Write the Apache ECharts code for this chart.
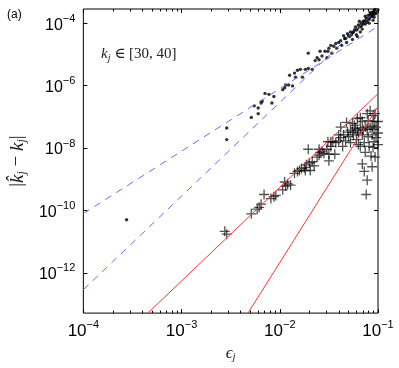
<!DOCTYPE html>
<html><head><meta charset="utf-8">
<script src="https://cdn.jsdelivr.net/npm/echarts@6/dist/echarts.min.js"></script>
<style>html,body{margin:0;padding:0;background:#fff}#c{width:399px;height:368px}</style>
</head><body><div id="c"></div>
<script>
// All values are log10 of the plotted quantities (both axes are logarithmic)
const xRange = [-4, -1];            // log10(eps_j)
const yRange = [-13.29, -3.546];    // log10(|k^_j - k_j|)
const xMajorTicks = [-4, -3, -2, -1];
const yMajorTicks = [-12, -10, -8, -6, -4];
const xMinorMantissas = [2, 3, 4, 5, 6, 7, 8, 9];

// reference power-law lines: [log10 eps, log10 err] end points
const blueLineA = [[-4, -10.10], [-1, -4.10]];   // ~eps^2
const blueLineB = [[-4, -12.54], [-1, -3.54]];   // ~eps^3
const redLineA  = [[-4, -15.26], [-1, -6.26]];   // ~eps^3
const redLineB  = [[-4, -21.67], [-1, -6.67]];   // ~eps^5

// dot series [log10 eps, log10 err]
const dots = [
 [-3.56,-10.30],[-2.54,-7.36],[-2.54,-7.73],[-2.29,-7.02],[-2.22,-6.72],[-2.22,-6.90],
 [-2.19,-6.56],[-2.18,-6.50],[-2.15,-6.25],[-2.11,-6.28],[-2.06,-6.35],[-2.08,-6.56],
 [-1.97,-6.13],[-1.95,-6.07],[-1.94,-5.98],[-1.91,-5.98],[-1.87,-6.01],[-1.85,-5.60],
 [-1.82,-5.51],[-1.79,-5.48],[-1.84,-5.73],[-1.77,-5.73],[-1.74,-5.48],[-1.71,-5.45],
 [-1.67,-5.48],[-1.71,-4.96],[-1.64,-5.20],[-1.62,-5.11],[-1.60,-5.17],[-1.57,-5.05],
 [-1.59,-4.90],[-1.54,-4.90],[-1.51,-4.90],[-1.50,-4.80],[-1.48,-4.71],[-1.45,-4.74],
 [-1.43,-4.65],[-1.40,-4.62],[-1.38,-4.56],[-1.35,-4.40],[-1.33,-4.49],[-1.31,-4.34],
 [-1.29,-4.43],[-1.28,-4.28],[-1.26,-4.31],[-1.24,-4.22],[-1.23,-4.12],[-1.21,-4.19],
 [-1.20,-4.06],[-1.18,-4.09],[-1.17,-4.00],[-1.15,-4.03],[-1.14,-3.94],[-1.12,-3.91],
 [-1.11,-3.97],[-1.10,-3.85],[-1.08,-3.81],[-1.07,-3.75],[-1.06,-3.78],[-1.05,-3.69],
 [-1.04,-3.72],[-1.04,-3.63],[-1.03,-3.66],[-1.02,-3.60],[-1.00,-3.57],[-1.32,-4.62],
 [-1.26,-4.52],[-1.22,-4.37],[-1.16,-4.19],[-1.09,-4.00],[-1.42,-4.80],[-1.37,-4.71],
 [-1.13,-3.78],[-1.19,-3.94],[-1.52,-5.11],[-1.47,-4.96],[-1.90,-5.67],[-2.26,-6.65],
 [-1.04,-3.81],[-1.08,-3.66],
 [-1.34,-4.49],[-1.30,-4.40],[-1.27,-4.37],[-1.25,-4.28],[-1.22,-4.22],[-1.19,-4.12],
 [-1.17,-4.09],[-1.15,-3.94],[-1.12,-3.85],[-1.10,-3.75],[-1.08,-3.72],[-1.06,-3.66],
 [-1.04,-3.60],[-1.03,-3.56],[-1.02,-3.69],[-1.05,-3.91],[-1.09,-3.88],[-1.13,-4.03],
 [-1.18,-4.28],[-1.21,-4.43]
];

// cross series [log10 eps, log10 err]
const crosses = [
 [-2.54,-10.76],[-2.56,-10.67],[-2.29,-10.11],[-2.23,-9.96],[-2.21,-9.90],[-2.19,-9.80],
 [-2.16,-9.49],[-2.09,-9.62],[-2.06,-9.56],[-2.04,-9.52],[-1.97,-9.34],[-1.94,-9.22],
 [-1.95,-9.09],[-1.92,-9.15],[-1.89,-9.19],[-1.85,-8.81],[-1.82,-8.75],[-1.80,-8.72],
 [-1.78,-8.66],[-1.75,-8.63],[-1.73,-8.54],[-1.70,-8.48],[-1.67,-8.44],[-1.65,-8.57],
 [-1.69,-8.72],[-1.74,-8.72],[-1.71,-8.04],[-1.62,-8.29],[-1.60,-8.23],[-1.59,-8.14],
 [-1.57,-8.10],[-1.55,-8.17],[-1.60,-8.04],[-1.52,-8.04],[-1.50,-8.20],[-1.48,-7.95],
 [-1.46,-7.80],[-1.48,-7.80],[-1.43,-7.83],[-1.40,-7.77],[-1.38,-7.67],[-1.35,-7.58],
 [-1.33,-7.77],[-1.31,-7.49],[-1.30,-7.64],[-1.28,-7.43],[-1.26,-7.49],[-1.25,-7.58],
 [-1.23,-7.36],[-1.21,-7.43],[-1.18,-7.36],[-1.20,-7.52],[-1.15,-7.43],[-1.13,-7.33],
 [-1.11,-7.40],[-1.08,-7.36],[-1.06,-7.30],[-1.04,-7.40],[-1.02,-7.33],[-1.32,-7.18],
 [-1.21,-7.06],[-1.11,-6.90],[-1.08,-6.81],[-1.05,-6.96],[-1.03,-6.90],[-1.00,-7.15],
 [-1.16,-7.15],[-1.26,-7.21],[-1.38,-7.33],[-1.22,-7.73],[-1.18,-7.95],[-1.14,-7.83],
 [-1.10,-7.64],[-1.06,-7.58],[-1.04,-7.80],[-1.02,-7.67],[-1.07,-8.26],[-1.03,-8.29],
 [-1.16,-8.51],[-1.14,-8.75],[-1.11,-9.03],[-1.12,-9.49],[-1.06,-8.60],[-1.05,-7.98],
 [-1.20,-7.89],[-1.28,-7.83],[-1.36,-7.95],[-1.13,-8.14],[-1.09,-7.95],[-1.00,-7.89],
 [-1.00,-7.52],[-1.16,-7.58],[-1.24,-7.27],[-1.40,-7.58],[-1.51,-7.80],[-1.44,-8.20],
 [-1.50,-8.41],[-1.18,-7.03],[-1.10,-7.12],[-1.04,-7.15]
];

const xMinorTicks = [];
xMajorTicks.slice(0, -1).forEach(function (k) {
  xMinorMantissas.forEach(function (m) { xMinorTicks.push(k + Math.log10(m)); });
});

function powLabel(v) {
  const n = Math.round(v);
  return '{b|10}{s|' + (n < 0 ? '\u2212' : '') + Math.abs(n) + '}';
}

const SANS = 'Liberation Sans, Arial, sans-serif';
const SERIF = 'Liberation Serif, DejaVu Serif, serif';

function tickAxis(base, extra) { return Object.assign({}, base, extra); }

const xBase = { type: 'value', gridIndex: 0, min: xRange[0], max: xRange[1], splitLine: { show: false }, axisLine: { show: false } };
const yBase = { type: 'value', gridIndex: 0, min: yRange[0], max: yRange[1], splitLine: { show: false }, axisLine: { show: false } };
const tickStyle = { color: '#000', width: 1 };

const chart = echarts.init(document.getElementById('c'), null, { renderer: 'canvas' });
chart.setOption({
  animation: false,
  backgroundColor: '#fff',
  grid: { left: 72, right: 21, top: 9, bottom: 43, show: true, borderColor: '#000', borderWidth: 1, backgroundColor: 'transparent' },
  xAxis: [
    tickAxis(xBase, {
      position: 'bottom', interval: 1,
      axisTick: { inside: true, length: 4, lineStyle: tickStyle, customValues: xMajorTicks },
      axisLabel: { customValues: xMajorTicks, margin: 6, formatter: powLabel,
        rich: { b: { fontFamily: SANS, fontSize: 17, color: '#000', padding: [4, 0, 0, 0] },
                s: { fontFamily: SANS, fontSize: 11, color: '#000', verticalAlign: 'top' } } },
      name: '{e|\u03f5}{j|j}', nameLocation: 'middle', nameGap: 27,
      nameTextStyle: { rich: {
        e: { fontFamily: SERIF, fontStyle: 'italic', fontSize: 17, color: '#222' },
        j: { fontFamily: SERIF, fontStyle: 'italic', fontSize: 11, color: '#222', padding: [8, 0, 0, 0] } } }
    }),
    tickAxis(xBase, { position: 'bottom', axisTick: { inside: true, length: 2.5, lineStyle: tickStyle, customValues: xMinorTicks }, axisLabel: { show: false } }),
    tickAxis(xBase, { position: 'top', axisTick: { inside: true, length: 4, lineStyle: tickStyle, customValues: xMajorTicks }, axisLabel: { show: false } }),
    tickAxis(xBase, { position: 'top', axisTick: { inside: true, length: 2.5, lineStyle: tickStyle, customValues: xMinorTicks }, axisLabel: { show: false } })
  ],
  yAxis: [
    tickAxis(yBase, {
      position: 'left',
      axisTick: { inside: true, length: 4, lineStyle: tickStyle, customValues: yMajorTicks },
      axisLabel: { customValues: yMajorTicks, margin: 8, formatter: powLabel,
        rich: { b: { fontFamily: SANS, fontSize: 16, color: '#000', padding: [4, 0, 0, 0] },
                s: { fontFamily: SANS, fontSize: 11, color: '#000', verticalAlign: 'top' } } },
      name: '|{k|k\u0302}{j|j} \u2212 {k|k}{j|j}|', nameLocation: 'middle', nameGap: 44, nameRotate: 90,
      nameTextStyle: { fontFamily: SERIF, fontSize: 19, color: '#222', rich: {
        k: { fontFamily: SERIF, fontStyle: 'italic', fontSize: 19, color: '#222' },
        j: { fontFamily: SERIF, fontStyle: 'italic', fontSize: 12, color: '#222', padding: [9, 0, 0, 0] } } }
    }),
    tickAxis(yBase, { position: 'right', axisTick: { inside: true, length: 4, lineStyle: tickStyle, customValues: yMajorTicks }, axisLabel: { show: false } })
  ],
  graphic: [
    { type: 'text', left: 7, top: 9, style: { text: '(a)', font: '12px ' + SANS, fill: '#000' } },
    { type: 'text', left: 101, top: 47, style: {
        text: '{k|k}{j|j}{n| \u2208 [30, 40]}',
        rich: {
          k: { fontFamily: SERIF, fontStyle: 'italic', fontSize: 15, fill: '#222' },
          j: { fontFamily: SERIF, fontStyle: 'italic', fontSize: 10, fill: '#222', padding: [7, 0, 0, 0] },
          n: { fontFamily: SERIF, fontSize: 15, fill: '#222' } } } }
  ],
  series: [
    { type: 'line', data: blueLineA, symbol: 'none', clip: true, silent: true, lineStyle: { color: '#5f72f8', width: 1, type: [7, 6] } },
    { type: 'line', data: blueLineB, symbol: 'none', clip: true, silent: true, lineStyle: { color: '#5f72f8', width: 1, type: [7, 6] } },
    { type: 'line', data: redLineA, symbol: 'none', clip: true, silent: true, lineStyle: { color: '#ff3535', width: 1 } },
    { type: 'line', data: redLineB, symbol: 'none', clip: true, silent: true, lineStyle: { color: '#ff3535', width: 1 } },
    { type: 'scatter', data: crosses, clip: true, silent: true,
      symbol: 'path://M4,0 H5.2 V4 H9.2 V5.2 H5.2 V9.2 H4 V5.2 H0 V4 H4 Z', symbolSize: 10,
      itemStyle: { color: 'rgba(0,0,0,0.85)' } },
    { type: 'scatter', data: dots, clip: true, silent: true, symbol: 'circle', symbolSize: 3.4, itemStyle: { color: '#000' } }
  ]
});
</script></body></html>
